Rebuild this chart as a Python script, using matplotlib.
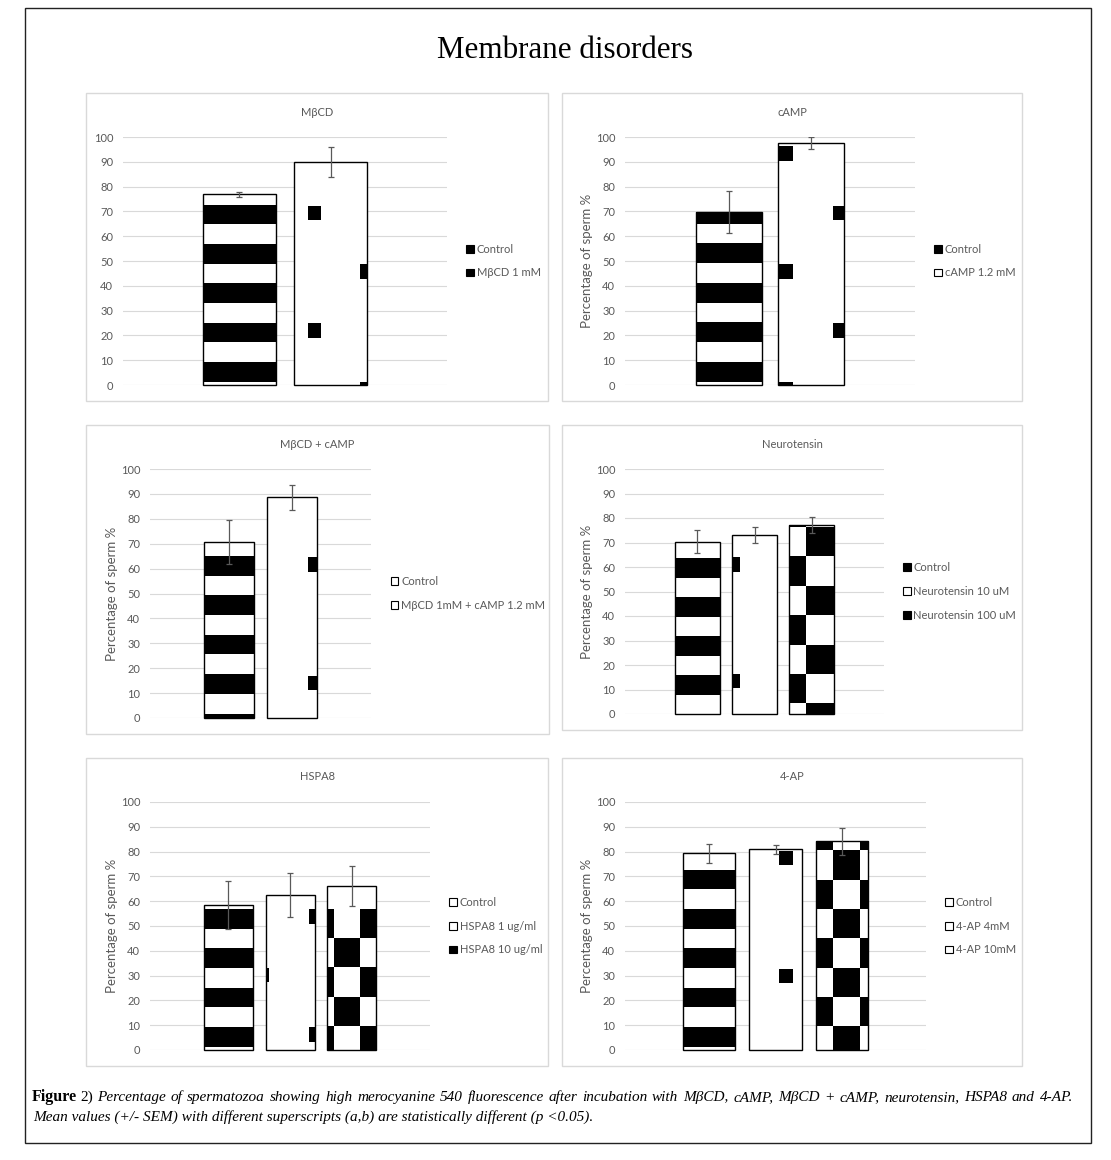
import numpy as np
import matplotlib
matplotlib.use("Agg")
import matplotlib.pyplot as plt
from matplotlib.patches import Rectangle, Patch

W, H = 1111, 1160
GRAY = "#595959"
GRID = "#d9d9d9"

# ---- data ----
titles = ["MβCD", "cAMP", "MβCD + cAMP", "Neurotensin", "HSPA8", "4-AP"]
labels = [
    ["Control", "MβCD 1 mM"],
    ["Control", "cAMP 1.2 mM"],
    ["Control", "MβCD 1mM + cAMP 1.2 mM"],
    ["Control", "Neurotensin 10 uM", "Neurotensin 100 uM"],
    ["Control", "HSPA8 1 ug/ml", "HSPA8 10 ug/ml"],
    ["Control", "4-AP 4mM", "4-AP 10mM"],
]
means = [
    [76.9, 89.8],
    [69.9, 97.5],
    [70.6, 88.6],
    [70.4, 73.0, 77.2],
    [58.4, 62.4, 66.0],
    [79.4, 80.9, 84.2],
]
sems = [
    [1.0, 6.0],
    [8.5, 2.3],
    [8.8, 5.0],
    [4.7, 3.3, 3.2],
    [9.7, 8.9, 8.0],
    [3.8, 1.9, 5.4],
]
caption1 = ("Percentage of spermatozoa showing high merocyanine 540 fluorescence after incubation "
            "with MβCD, cAMP, MβCD + cAMP, neurotensin, HSPA8 and 4-AP.")
caption2 = "Mean values (+/- SEM) with different superscripts (a,b) are statistically different (p <0.05)."

# ---- layout (pixels) ----
axes_px = [  # left, right, top(100), bottom(0)
    (123, 447, 137, 385),
    (625, 915, 137, 385),
    (150, 371, 469, 718),
    (625, 884, 469, 714),
    (150, 430, 802, 1050),
    (625, 926, 802, 1050),
]
panel_px = [
    (86, 548, 93, 401),
    (562, 1022, 93, 401),
    (86, 549, 425, 734),
    (562, 1022, 425, 730),
    (86, 548, 758, 1066),
    (562, 1022, 758, 1066),
]
title_y = [112, 112, 444, 444, 777, 777]
ylabel_x = [None, 587, 112, 587, 112, 587]
legend_x = [1.059, 1.066, 1.089, 1.073, 1.068, 1.063]
legend_face = [
    ["black", "black"],
    ["black", "white"],
    ["white", "white"],
    ["black", "white", "black"],
    ["white", "white", "black"],
    ["white", "white", "white"],
]

# fill patterns (style only)
stripe_phase = [1.3, 1.3, 9.6, 7.9, 1.3, 1.3]
dots = [
    [(0.19, 0.37, 69.3), (0.90, 1.08, 45.7)],
    [(0.015, 0.22, 93.2), (0.84, 1.04, 69.3)],
    [(-0.24, 0.03, 84.7), (0.83, 1.10, 61.5)],
    [(0.0, 0.18, 61.0)],
    [(-0.2, 0.07, 30.3), (0.88, 1.15, 53.7)],
    [(0.57, 0.83, 77.2)],
]
checker = [
    None, None, None,
    dict(cols=[0, 0.37, 1.0], phase=4.3, step=11.95, odd=False, top=200),
    dict(cols=[0, 0.14, 0.67, 1.0], phase=9.7, step=11.8, odd=True, top=56.6),
    dict(cols=[0, 0.33, 0.83, 1.0], phase=9.6, step=11.8, odd=False, top=200),
]


def fx(px):
    return px / W


def fy(py):
    return 1 - py / H


def pattern(kind, i, h):
    nx, ny = 300, 1200
    xc = (np.arange(nx) + 0.5) / nx
    yc = (np.arange(ny) + 0.5) / ny * h
    X, Y = np.meshgrid(xc, yc)
    m = np.zeros_like(X)
    if kind == 0:
        m[((Y - stripe_phase[i]) % 15.85) < 8.0] = 1
    elif kind == 1:
        for x0, x1, yc0 in dots[i]:
            d = (Y - yc0 + 23.7) % 47.4 - 23.7
            m[(np.abs(d) < 2.9) & (X >= x0) & (X < x1)] = 1
    else:
        c = checker[i]
        r = np.floor((Y - c["phase"]) / c["step"]).astype(int)
        col = np.digitize(X, c["cols"][1:-1])
        par = (r + col) % 2
        m[(par == 1) if c["odd"] else (par == 0)] = 1
        m[Y > c["top"]] = 0
    return m


fig = plt.figure(figsize=(W / 100, H / 100), dpi=100)
plt.rcParams["font.family"] = ["Lato", "DejaVu Sans"]

fig.add_artist(Rectangle((fx(25), fy(1143)), fx(1091) - fx(25), fy(8) - fy(1143),
                         transform=fig.transFigure, fill=False, edgecolor="#222222", lw=1.0))
fig.text(fx(565), fy(51), "Membrane disorders", ha="center", va="center",
         family="Liberation Serif", fontsize=22.3, color="black")

for i in range(6):
    l, r, t, b = axes_px[i]
    px0, px1, py0, py1 = panel_px[i]
    fig.add_artist(Rectangle((fx(px0), fy(py1)), fx(px1) - fx(px0), fy(py0) - fy(py1),
                             transform=fig.transFigure, fill=False, edgecolor=GRID, lw=1.0))
    ax = fig.add_axes([fx(l), fy(b), fx(r) - fx(l), fy(t) - fy(b)])
    n = len(means[i])
    width = 0.225 if n == 2 else 0.175
    step = 0.283 if n == 2 else 0.221
    xs = (np.arange(n) - (n - 1) / 2) * step
    bars = ax.bar(xs, means[i], width=width, facecolor="none", edgecolor="black",
                  lw=1.0, zorder=3, clip_on=False)
    for k, rect in enumerate(bars):
        kind = 0 if k == 0 else (1 if k == 1 else 2)
        img = pattern(kind, i, rect.get_height())
        im = ax.imshow(img, cmap="gray_r", vmin=0, vmax=1, origin="lower", aspect="auto",
                       interpolation="nearest", zorder=2,
                       extent=(rect.get_x(), rect.get_x() + rect.get_width(), 0, rect.get_height()))
        im.set_clip_path(rect)
    ax.errorbar(xs, means[i], yerr=sems[i], fmt="none", ecolor=GRAY, elinewidth=0.9,
                capsize=2.5, capthick=0.9, zorder=4)
    ax.set_xlim(-0.5, 0.5)
    ax.set_ylim(0, 100)
    ax.set_yticks(np.arange(0, 101, 10))
    ax.set_xticks([])
    ax.tick_params(axis="y", length=0, pad=7, labelsize=8, labelcolor=GRAY)
    ax.grid(axis="y", color=GRID, lw=0.8)
    ax.set_axisbelow(True)
    for s in ax.spines.values():
        s.set_visible(False)
    fig.text(fx((px0 + px1) / 2), fy(title_y[i]), titles[i], ha="center", va="center",
             fontsize=8, color=GRAY)
    if ylabel_x[i] is not None:
        fig.text(fx(ylabel_x[i]), fy((t + b) / 2), "Percentage of sperm %", rotation=90,
                 ha="center", va="center", fontsize=9.5, color=GRAY)
    handles = [Patch(facecolor=fc, edgecolor="black", lw=0.8) for fc in legend_face[i]]
    ax.legend(handles, labels[i], loc="center left", bbox_to_anchor=(legend_x[i], 0.5),
              frameon=False, handlelength=0.7, handleheight=0.7, handletextpad=0.25,
              labelspacing=1.15, fontsize=8, labelcolor=GRAY, borderaxespad=0, borderpad=0)

# caption
cap_font = "Liberation Serif"
renderer = fig.canvas.get_renderer()
t1 = fig.text(fx(32), fy(1101), "Figure", fontsize=11.5, fontweight="bold", family=cap_font,
              va="baseline", ha="left")
x = t1.get_window_extent(renderer).x1 + 3
t2 = fig.text(x / W, fy(1101), "2)", fontsize=11, family=cap_font, va="baseline", ha="left")
x = t2.get_window_extent(renderer).x1 + 4
# justified first line
words = caption1.split(" ")
wtexts = [fig.text(0, fy(1101), w, fontsize=11, style="italic", family=cap_font,
                   va="baseline", ha="left") for w in words]
widths = [t.get_window_extent(renderer).width for t in wtexts]
gap = (1073 - x - sum(widths)) / (len(words) - 1)
for t, w in zip(wtexts, widths):
    t.set_x(x / W)
    x += w + gap
fig.text(fx(33), fy(1121), caption2, fontsize=11, style="italic", family=cap_font,
         va="baseline", ha="left")

fig.savefig("out.png", dpi=100)
